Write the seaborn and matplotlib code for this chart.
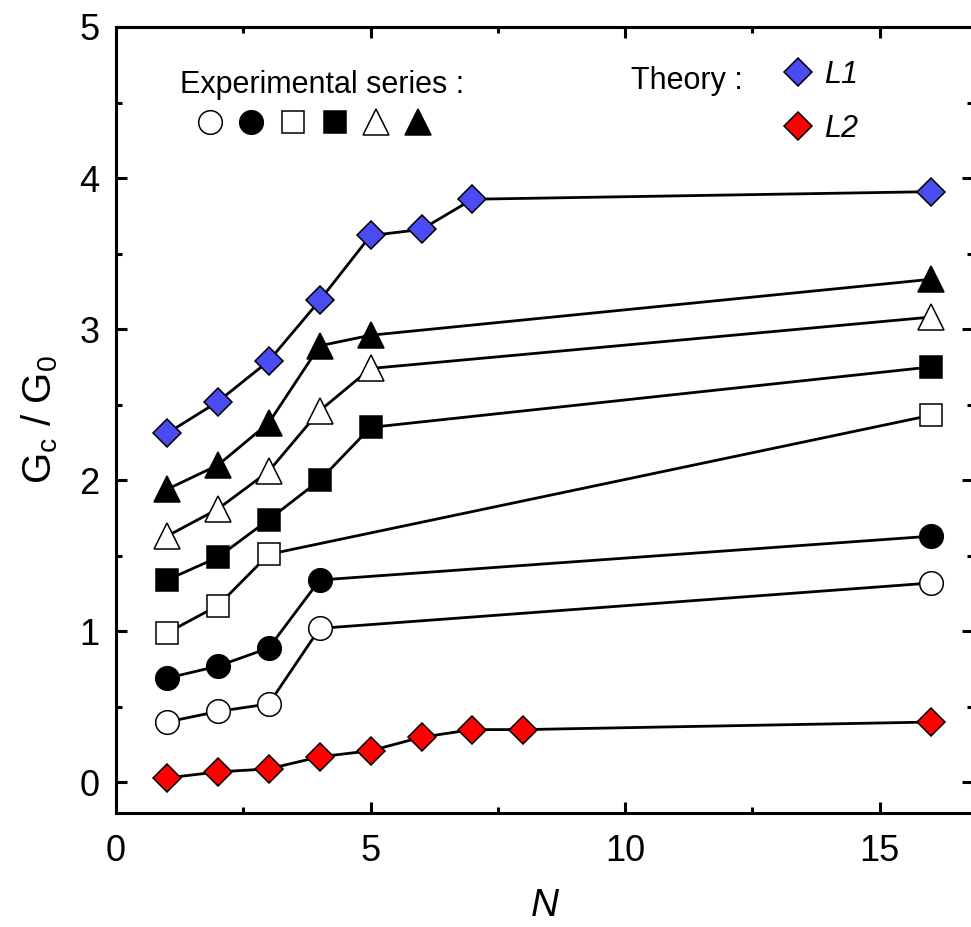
import matplotlib
matplotlib.use("Agg")
import matplotlib.pyplot as plt
from matplotlib.lines import Line2D
from matplotlib.ticker import MultipleLocator
import seaborn as sns
import pandas as pd

# Theory curves
n_l1 = [1, 2, 3, 4, 5, 6, 7, 16]
g_l1 = [2.31, 2.52, 2.79, 3.19, 3.62, 3.66, 3.86, 3.91]
n_l2 = [1, 2, 3, 4, 5, 6, 7, 8, 16]
g_l2 = [0.03, 0.07, 0.09, 0.17, 0.21, 0.30, 0.35, 0.35, 0.40]

# Experimental series
n_open_circle = [1, 2, 3, 4, 16]
g_open_circle = [0.40, 0.47, 0.52, 1.02, 1.32]
n_filled_circle = [1, 2, 3, 4, 16]
g_filled_circle = [0.69, 0.77, 0.89, 1.34, 1.63]
n_open_square = [1, 2, 3, 16]
g_open_square = [0.99, 1.17, 1.51, 2.43]
n_filled_square = [1, 2, 3, 4, 5, 16]
g_filled_square = [1.34, 1.49, 1.74, 2.00, 2.35, 2.75]
n_open_triangle = [1, 2, 3, 4, 5, 16]
g_open_triangle = [1.63, 1.81, 2.06, 2.46, 2.74, 3.08]
n_filled_triangle = [1, 2, 3, 4, 5, 16]
g_filled_triangle = [1.94, 2.10, 2.38, 2.89, 2.96, 3.33]

BLUE = "#4b4bf2"
RED = "#ff0000"

sns.set_style("ticks")
plt.rcParams["font.family"] = ["Liberation Sans", "DejaVu Sans"]
plt.rcParams["mathtext.fontset"] = "custom"
plt.rcParams["mathtext.rm"] = "Liberation Sans"
plt.rcParams["mathtext.it"] = "Liberation Sans:italic"
for key in ["text.color", "axes.labelcolor", "xtick.color", "ytick.color", "axes.edgecolor"]:
    plt.rcParams[key] = "black"

fig = plt.figure(figsize=(9.71, 9.27), dpi=100)
ax = fig.add_axes([0.1195, 0.1233, 0.8825, 0.8476])

# (x, y, marker, size, facecolor)
series = [
    (n_l2, g_l2, "D", 14, RED),
    (n_open_circle, g_open_circle, "o", 17, "white"),
    (n_filled_circle, g_filled_circle, "o", 17, "black"),
    (n_open_square, g_open_square, "s", 16, "white"),
    (n_filled_square, g_filled_square, "s", 16, "black"),
    (n_open_triangle, g_open_triangle, "^", 19, "white"),
    (n_filled_triangle, g_filled_triangle, "^", 19, "black"),
    (n_l1, g_l1, "D", 14, BLUE),
]
for xs, ys, mk, ms, fc in series:
    df = pd.DataFrame({"N": xs, "G": ys})
    sns.lineplot(data=df, x="N", y="G", ax=ax, color="black", linewidth=2.0,
                 marker=mk, markersize=ms, markerfacecolor=fc,
                 markeredgecolor="black", markeredgewidth=1.1)

ax.set_xlim(0, 16.83)
ax.set_ylim(-0.2, 5)
ax.xaxis.set_major_locator(MultipleLocator(5))
ax.xaxis.set_minor_locator(MultipleLocator(2.5))
ax.yaxis.set_major_locator(MultipleLocator(1))
ax.yaxis.set_minor_locator(MultipleLocator(0.5))
ax.tick_params(which="both", direction="in", top=True, right=True, width=2.2)
ax.tick_params(which="major", length=8, labelsize=26, pad=12)
ax.tick_params(which="minor", length=4)
ax.tick_params(axis="x", which="major", pad=15)
for s in ax.spines.values():
    s.set_linewidth(2.2)

ax.set_xlabel("N", fontsize=28, style="italic", labelpad=14)
ax.set_ylabel(r"G$_\mathregular{c}$ / G$_\mathregular{0}$", fontsize=29, labelpad=14)

# legend-like key
ax.text(0.075, 0.926, "Experimental series :", transform=ax.transAxes,
        fontsize=22, ha="left", va="center")
exp_handles = [
    Line2D([], [], ls="none", marker="o", ms=17, mfc="white", mec="black", mew=1.1),
    Line2D([], [], ls="none", marker="o", ms=17, mfc="black", mec="black", mew=1.1),
    Line2D([], [], ls="none", marker="s", ms=16, mfc="white", mec="black", mew=1.1),
    Line2D([], [], ls="none", marker="s", ms=16, mfc="black", mec="black", mew=1.1),
    Line2D([], [], ls="none", marker="^", ms=19, mfc="white", mec="black", mew=1.1),
    Line2D([], [], ls="none", marker="^", ms=19, mfc="black", mec="black", mew=1.1),
]
leg1 = ax.legend(exp_handles, [""] * 6, ncol=6, frameon=False, fontsize=20,
                 handlelength=1.0, handletextpad=0.0, columnspacing=0.5,
                 borderpad=0, borderaxespad=0,
                 loc="center left", bbox_to_anchor=(0.093, 0.876))
ax.add_artist(leg1)

ax.text(0.601, 0.931, "Theory :", transform=ax.transAxes,
        fontsize=22, ha="left", va="center")
th_handles = [
    Line2D([], [], ls="none", marker="D", ms=14, mfc=BLUE, mec="black", mew=1.1),
    Line2D([], [], ls="none", marker="D", ms=14, mfc=RED, mec="black", mew=1.1),
]
ax.legend(th_handles, ["L1", "L2"], frameon=False,
          prop={"size": 22, "style": "italic", "family": "Liberation Sans"},
          handlelength=1.0, handletextpad=0.35, labelspacing=0.78,
          borderpad=0, borderaxespad=0,
          loc="upper left", bbox_to_anchor=(0.778, 0.958))

fig.savefig("out.png", dpi=100)
